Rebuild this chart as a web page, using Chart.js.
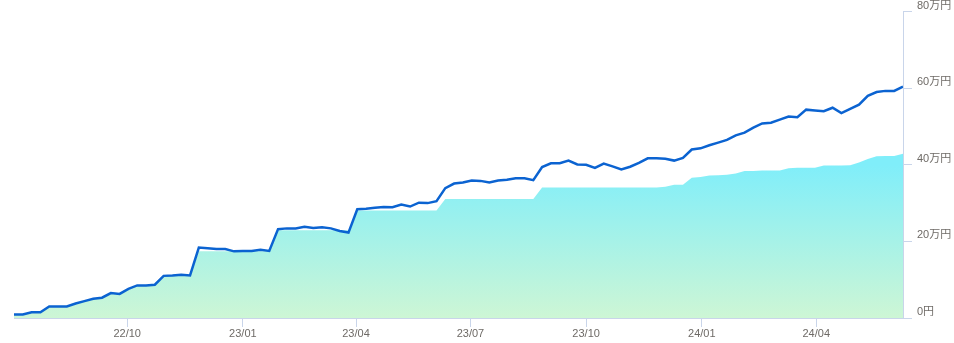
<!DOCTYPE html>
<html>
<head>
<meta charset="utf-8">
<script src="https://cdn.jsdelivr.net/npm/chart.js@4/dist/chart.umd.min.js"></script>
<style>
html,body{margin:0;padding:0;background:#fff;}
#wrap{width:954px;height:343px;position:relative;}
</style>
</head>
<body>
<div id="wrap"><canvas id="c"></canvas></div>
<script>
// weekly dates
const dates = [
'2022-07-03','2022-07-10','2022-07-17','2022-07-24','2022-07-31','2022-08-07','2022-08-14','2022-08-21','2022-08-28',
'2022-09-04','2022-09-11','2022-09-18','2022-09-25','2022-10-02','2022-10-09','2022-10-16','2022-10-23','2022-10-30',
'2022-11-06','2022-11-13','2022-11-20','2022-11-27','2022-12-04','2022-12-11','2022-12-18','2022-12-25',
'2023-01-01','2023-01-08','2023-01-15','2023-01-22','2023-01-29','2023-02-05','2023-02-12','2023-02-19','2023-02-26',
'2023-03-05','2023-03-12','2023-03-19','2023-03-26','2023-04-02','2023-04-09','2023-04-16','2023-04-23','2023-04-30',
'2023-05-07','2023-05-14','2023-05-21','2023-05-28','2023-06-04','2023-06-11','2023-06-18','2023-06-25',
'2023-07-02','2023-07-09','2023-07-16','2023-07-23','2023-07-30','2023-08-06','2023-08-13','2023-08-20','2023-08-27',
'2023-09-03','2023-09-10','2023-09-17','2023-09-24','2023-10-01','2023-10-08','2023-10-15','2023-10-22','2023-10-29',
'2023-11-05','2023-11-12','2023-11-19','2023-11-26','2023-12-03','2023-12-10','2023-12-17','2023-12-24','2023-12-31',
'2024-01-07','2024-01-14','2024-01-21','2024-01-28','2024-02-04','2024-02-11','2024-02-18','2024-02-25',
'2024-03-03','2024-03-10','2024-03-17','2024-03-24','2024-03-31','2024-04-07','2024-04-14','2024-04-21','2024-04-28',
'2024-05-05','2024-05-12','2024-05-19','2024-05-26','2024-06-02','2024-06-09'
];
// valuation (万円)
const valuation = [
0.9,0.9,1.5,1.5,3.0,3.0,3.0,3.8,4.4,5.0,5.3,6.5,6.3,7.6,8.5,8.5,8.7,
11.0,11.1,11.3,11.1,18.4,18.2,18.0,18.0,17.4,17.5,17.5,17.8,17.5,
23.2,23.4,23.4,23.8,23.5,23.7,23.4,22.7,22.3,
28.4,28.5,28.8,29.0,28.9,29.6,29.1,30.1,30.0,30.5,
33.9,35.1,35.4,35.9,35.8,35.4,35.9,36.1,36.5,36.5,36.0,
39.4,40.4,40.4,41.1,40.1,40.0,39.2,40.3,39.6,38.8,39.5,40.5,41.7,41.7,
41.6,41.1,41.8,44.0,44.3,45.1,45.8,46.5,47.7,48.4,49.7,50.8,51.0,51.8,52.6,52.4,
54.4,54.2,54.0,54.9,53.5,54.6,55.7,58.0,59.0,59.3,59.3,60.4
];
// invested amount (万円)
const invested = [
0.9,0.9,1.5,1.5,3.0,3.0,3.0,3.7,4.3,4.9,5.2,6.3,6.3,7.5,8.4,8.4,8.6,
11.0,11.0,11.0,11.0,17.4,17.4,17.4,17.4,17.4,17.4,17.4,17.4,17.4,
22.9,22.9,22.9,22.9,22.9,22.9,22.9,22.9,22.9,
28.1,28.1,28.1,28.1,28.1,28.1,28.1,28.1,28.1,28.1,
31.1,31.1,31.1,31.1,31.1,31.1,31.1,31.1,31.1,31.1,31.1,
34.1,34.1,34.1,34.1,34.1,34.1,34.1,34.1,34.1,34.1,34.1,34.1,34.1,34.1,
34.3,34.8,34.8,36.6,36.8,37.2,37.3,37.4,37.7,38.4,38.4,38.5,38.5,38.5,39.1,39.2,
39.2,39.2,39.8,39.8,39.8,39.9,40.6,41.5,42.2,42.3,42.3,42.9
];
const xTickDates = ['2022-10-01','2023-01-01','2023-04-01','2023-07-01','2023-10-01','2024-01-01','2024-04-01'];
const xTickLabels = ['22/10','23/01','23/04','23/07','23/10','24/01','24/04'];
const yTickValues = [0,20,40,60,80];
const yTickLabels = ['0円','20万円','40万円','60万円','80万円'];

const ts = dates.map(d => Date.parse(d));
const xTickTs = xTickDates.map(d => Date.parse(d));
const axisColor = '#c9d5ea';

Chart.defaults.font.family = '"Liberation Sans","Noto Sans CJK JP",sans-serif';
Chart.defaults.font.size = 11;
Chart.defaults.color = '#6e6a66';

new Chart(document.getElementById('c'), {
  type: 'line',
  data: {
    datasets: [
      {
        label: '評価額',
        data: ts.map((t,i) => ({x:t, y:valuation[i]})),
        borderColor: '#0b63d1',
        borderWidth: 2.5,
        pointRadius: 0,
        tension: 0,
        fill: false,
        order: 0
      },
      {
        label: '投資額',
        data: ts.map((t,i) => ({x:t, y:invested[i]})),
        borderWidth: 0,
        borderColor: 'rgba(0,0,0,0)',
        pointRadius: 0,
        tension: 0,
        fill: 'origin',
        order: 1,
        backgroundColor: (ctx) => {
          const chart = ctx.chart;
          const ca = chart.chartArea;
          if (!ca) return '#9eeef0';
          const ys = chart.scales.y;
          const top = ys.getPixelForValue(40);
          const g = chart.ctx.createLinearGradient(0, top, 0, ca.bottom);
          g.addColorStop(0, '#80eefa');
          g.addColorStop(1, '#cdf6d5');
          return g;
        }
      }
    ]
  },
  options: {
    responsive: true,
    maintainAspectRatio: false,
    animation: false,
    layout: { padding: { left: 14, top: 11, right: 0, bottom: 0 } },
    plugins: { legend: { display: false }, tooltip: { enabled: false } },
    scales: {
      x: {
        type: 'linear',
        min: ts[0],
        max: ts[ts.length-1],
        grid: { drawOnChartArea: false, drawTicks: true, tickLength: 9, color: axisColor },
        border: { display: true, color: axisColor },
        afterBuildTicks: (s) => { s.ticks = xTickTs.map(v => ({value: v})); },
        ticks: {
          padding: 0,
          maxRotation: 0,
          autoSkip: false,
          callback: (v) => { const i = xTickTs.indexOf(v); return i >= 0 ? xTickLabels[i] : ''; }
        },
        afterFit: (s) => { s.height = 25; }
      },
      y: {
        position: 'right',
        min: 0,
        max: 80,
        grid: { drawOnChartArea: false, drawTicks: true, tickLength: 9, color: axisColor },
        border: { display: true, color: axisColor },
        afterBuildTicks: (s) => { s.ticks = yTickValues.map(v => ({value: v})); },
        ticks: {
          padding: 5,
          labelOffset: -6,
          callback: (v) => { const i = yTickValues.indexOf(v); return i >= 0 ? yTickLabels[i] : ''; }
        },
        afterFit: (s) => { s.width = 51; }
      }
    }
  }
});
</script>
</body>
</html>
